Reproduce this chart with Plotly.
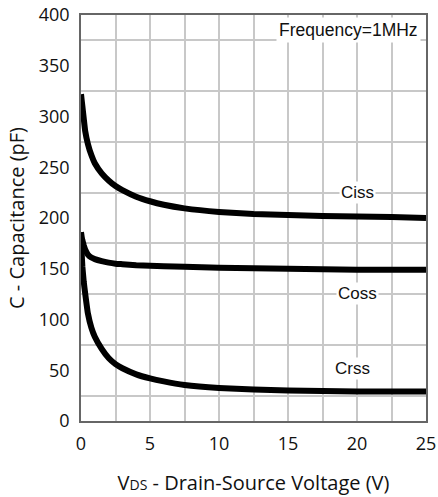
import plotly.graph_objects as go

vds = [0, 0.05, 0.1, 0.2, 0.3, 0.5, 0.75, 1, 1.5, 2, 2.5, 3, 4, 5, 6, 7.5, 10, 12.5, 15, 17.5, 20, 22.5, 25]
ciss = [322, 316, 310, 298, 286, 273, 262, 254, 244, 237, 231.5, 227.5, 221, 216.5, 213, 209.5, 206, 204, 203, 202, 201.5, 201, 200]
coss = [186, 181, 178, 173, 169, 164, 161, 159.5, 157.5, 156, 155, 154.5, 153.5, 153, 152.5, 152, 151, 150.5, 150, 149.5, 149, 149, 149]
crss = [186, 165, 152, 137, 126, 106, 92, 83, 71, 62, 56, 52, 46, 42, 39, 35.5, 32.5, 31, 30, 29.5, 29, 29, 29]

labels = ["Ciss", "Coss", "Crss"]
label_x = [20, 20, 19.7]
label_y = [225, 126, 52]

fig = go.Figure()
for ys in [ciss, coss, crss]:
    fig.add_trace(go.Scatter(x=vds, y=ys, mode="lines",
                             line=dict(color="black", width=6, shape="spline", smoothing=0.4),
                             showlegend=False, hoverinfo="skip"))

for t, x, y in zip(labels, label_x, label_y):
    fig.add_annotation(x=x, y=y, text=t, showarrow=False, bgcolor="white",
                       font=dict(family="Liberation Sans, Arial", size=17, color="#111"),
                       borderpad=1)

fig.add_annotation(x=0.985, y=0.995, xref="paper", yref="paper", xanchor="right", yanchor="top",
                   text="Frequency=1MHz", showarrow=False, bgcolor="white",
                   font=dict(family="Liberation Sans, Arial", size=17.5, color="#111"), borderpad=2)

fig.update_layout(
    width=438, height=497,
    margin=dict(l=81, r=12, t=15, b=76),
    paper_bgcolor="white", plot_bgcolor="white",
    font=dict(family="Open Sans", color="#111"),
)
fig.update_xaxes(range=[0, 25], tickvals=[0, 5, 10, 15, 20, 25], ticks="",
                 showgrid=False, zeroline=False, automargin=False,
                 showline=True, linecolor="#666", linewidth=1.5, mirror=True,
                 tickfont=dict(size=18), ticklabelstandoff=6,
                 title=dict(text='V<span style="font-size:14px">DS</span> - Drain-Source Voltage (V)',
                            font=dict(size=20), standoff=22),
                 minor=dict(dtick=2.5, tick0=0, showgrid=True, gridcolor="#c8c8c8", gridwidth=1.5))
fig.update_yaxes(range=[0, 400], dtick=50, ticks="",
                 showgrid=False, zeroline=False, automargin=False,
                 showline=True, linecolor="#666", linewidth=1.5, mirror=True,
                 tickfont=dict(size=18), ticklabelstandoff=6,
                 title=dict(text="C - Capacitance (pF)", font=dict(size=20), standoff=9),
                 minor=dict(dtick=25, tick0=0, showgrid=True, gridcolor="#c8c8c8", gridwidth=1.5))

fig.write_html("out.html")
